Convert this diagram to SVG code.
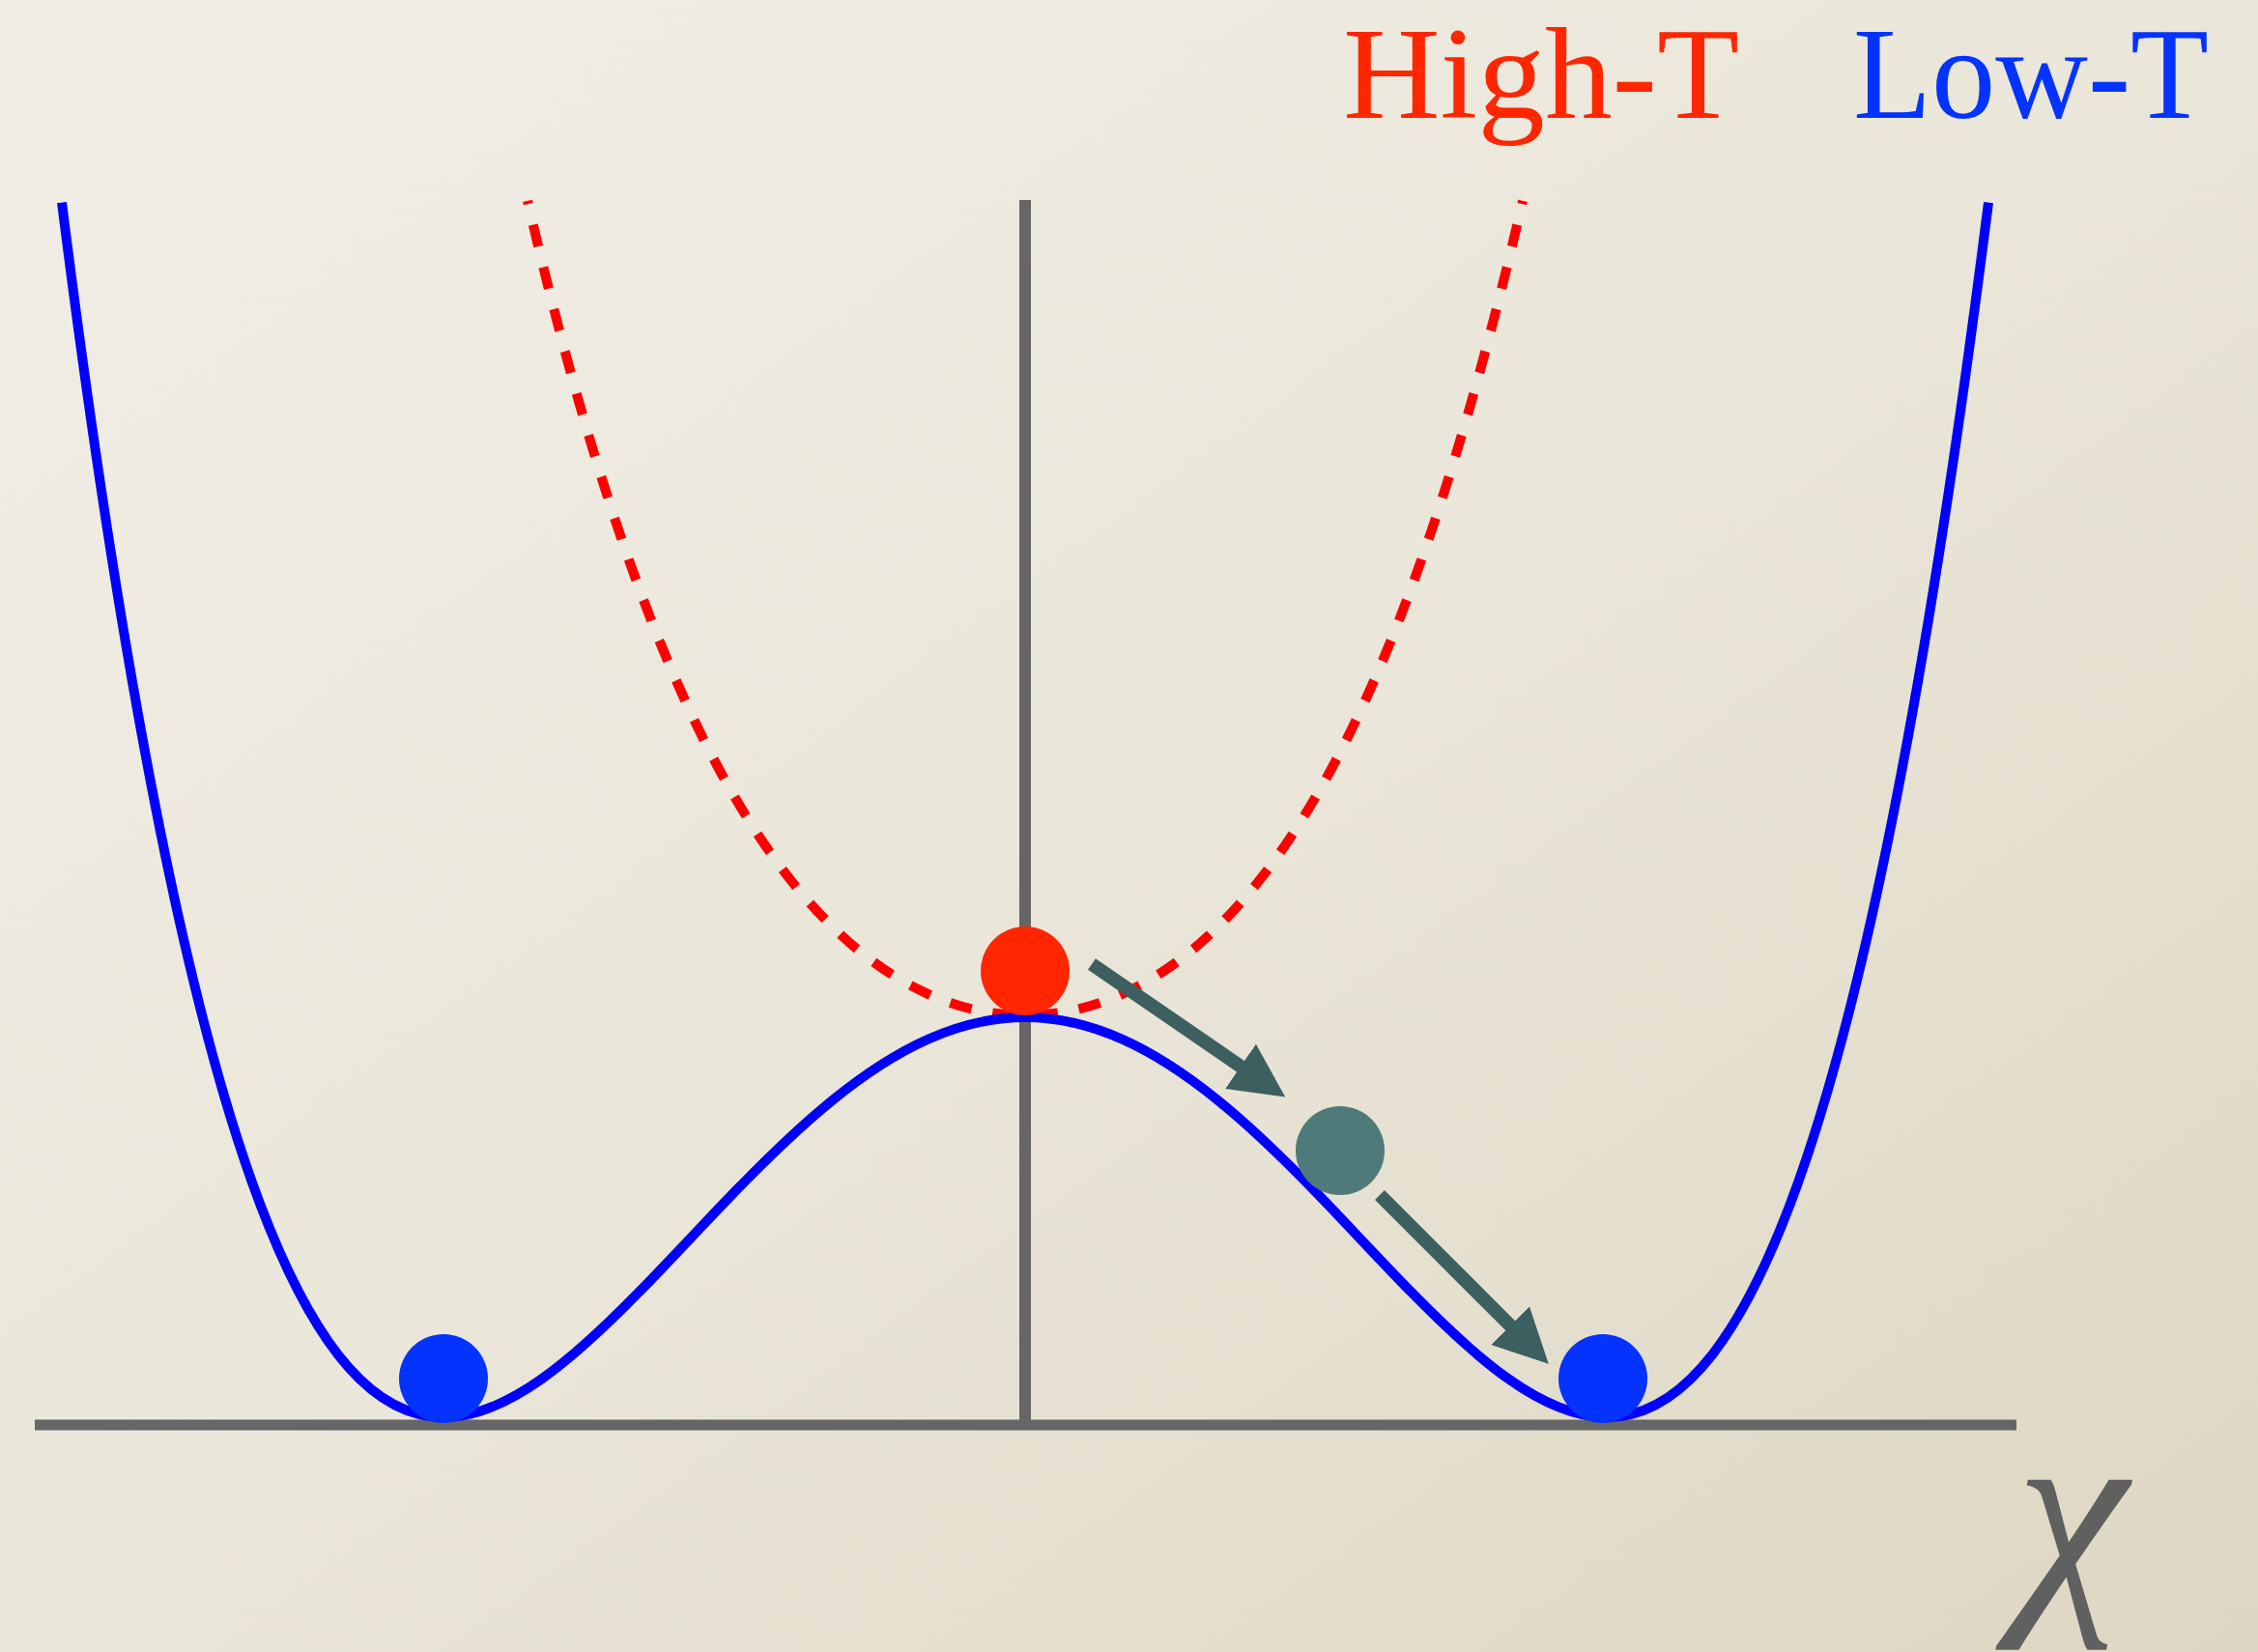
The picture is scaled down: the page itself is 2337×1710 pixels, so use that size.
<svg xmlns="http://www.w3.org/2000/svg" width="2337" height="1710" viewBox="0 0 2337 1710">
  <defs>
    <linearGradient id="bg" x1="0" y1="0" x2="1" y2="1">
      <stop offset="0" stop-color="#f1eee6"/>
      <stop offset="0.5" stop-color="#eae6d9"/>
      <stop offset="1" stop-color="#ddd6c2"/>
    </linearGradient>
    <marker id="head" markerUnits="userSpaceOnUse" viewBox="0 0 56 56" markerWidth="56" markerHeight="56" refX="6" refY="28" orient="auto">
      <path d="M0,0 L56,28 L0,56 z" fill="#3d5f5f"/>
    </marker>
    <style>
      .axis{stroke:#666666;stroke-width:12;fill:none}
      .low{stroke:#0000ff;stroke-width:10;fill:none;stroke-linejoin:round}
      .high{stroke:#ff0000;stroke-width:10;fill:none;stroke-dasharray:23 22;stroke-dashoffset:34}
      .arrow{stroke:#3d5f5f;stroke-width:14;fill:none}
      .lbl{font-family:"Liberation Serif","Times New Roman",serif;font-size:136px}
    </style>
  </defs>
  <rect width="2337" height="1710" fill="url(#bg)"/>

  <g id="axes">
    <line class="axis" x1="36" y1="1475" x2="2087" y2="1475" style="stroke-width:11"/>
    <line class="axis" x1="1061" y1="207" x2="1061" y2="1475"/>
  </g>

  <g id="high-T-curve">
    <path class="high" d="M1061,1051 C1094.33,1051 1127.67,1043.96 1161,1029.11 C1194.33,1014.26 1227.67,991.6 1261,958.79 C1294.33,925.99 1327.67,883.04 1361,826.07 C1394.33,769.1 1427.67,698.11 1461,607.67 C1499.33,503.66 1537.67,373.99 1576,207.84"/>
    <path class="high" d="M1061,1051 C1027.67,1051 994.33,1043.96 961,1029.11 C927.67,1014.26 894.33,991.6 861,958.79 C827.67,925.99 794.33,883.04 761,826.07 C727.67,769.1 694.33,698.11 661,607.67 C622.67,503.66 584.33,373.99 546,207.84"/>
  </g>

  <g id="low-T-curve">
    <path class="low" d="M64,209.51 C96.33,466.23 128.67,671.25 161,835.48 C194.33,1004.79 227.67,1130.75 261,1224.09 C294.33,1317.43 327.67,1378.14 361,1415.68 C394.33,1453.22 427.67,1467.59 461,1466.98 C494.33,1466.37 527.67,1450.79 561,1427.17 C594.33,1403.55 627.67,1371.89 661,1337.86 C694.33,1303.83 727.67,1267.44 761,1233.09 C794.33,1198.74 827.67,1166.45 861,1139.35 C894.33,1112.25 927.67,1090.34 961,1075.53 C994.33,1060.72 1027.67,1053 1061,1053 C1094.33,1053 1127.67,1060.72 1161,1075.53 C1194.33,1090.34 1227.67,1112.25 1261,1139.35 C1294.33,1166.45 1327.67,1198.74 1361,1233.09 C1394.33,1267.44 1427.67,1303.83 1461,1337.86 C1494.33,1371.89 1527.67,1403.55 1561,1427.17 C1594.33,1450.79 1627.67,1466.37 1661,1466.98 C1694.33,1467.59 1727.67,1453.22 1761,1415.68 C1794.33,1378.14 1827.67,1317.43 1861,1224.09 C1894.33,1130.75 1927.67,1004.79 1961,835.48 C1993.33,671.25 2025.67,466.23 2058,209.51"/>
  </g>

  <g id="connectors">
    <line class="arrow" x1="1130" y1="998" x2="1289" y2="1107.2" marker-end="url(#head)"/>
    <line class="arrow" x1="1428" y1="1237" x2="1567.4" y2="1376.4" marker-end="url(#head)"/>
  </g>

  <g id="ball-high">
    <circle cx="1061" cy="1005" r="46" fill="#ff2600"/>
  </g>
  <g id="ball-mid">
    <circle cx="1387" cy="1191" r="46" fill="#4e7a7a"/>
  </g>
  <g id="ball-left">
    <circle cx="459" cy="1427" r="46" fill="#0433ff"/>
  </g>
  <g id="ball-right">
    <circle cx="1659" cy="1427" r="46" fill="#0433ff"/>
  </g>

  <g id="label-high">
    <text class="lbl" x="1390" y="122" fill="#ff2600" textLength="410" lengthAdjust="spacingAndGlyphs">High-T</text>
  </g>
  <g id="label-low">
    <text class="lbl" x="1918" y="122" fill="#0433ff" textLength="368" lengthAdjust="spacingAndGlyphs">Low-T</text>
  </g>
  <g id="label-chi">
    <text x="2144" y="1652" fill="#606060" text-anchor="middle" font-family="Liberation Serif, Times New Roman, serif" font-style="italic" font-size="262">χ</text>
  </g>
</svg>
